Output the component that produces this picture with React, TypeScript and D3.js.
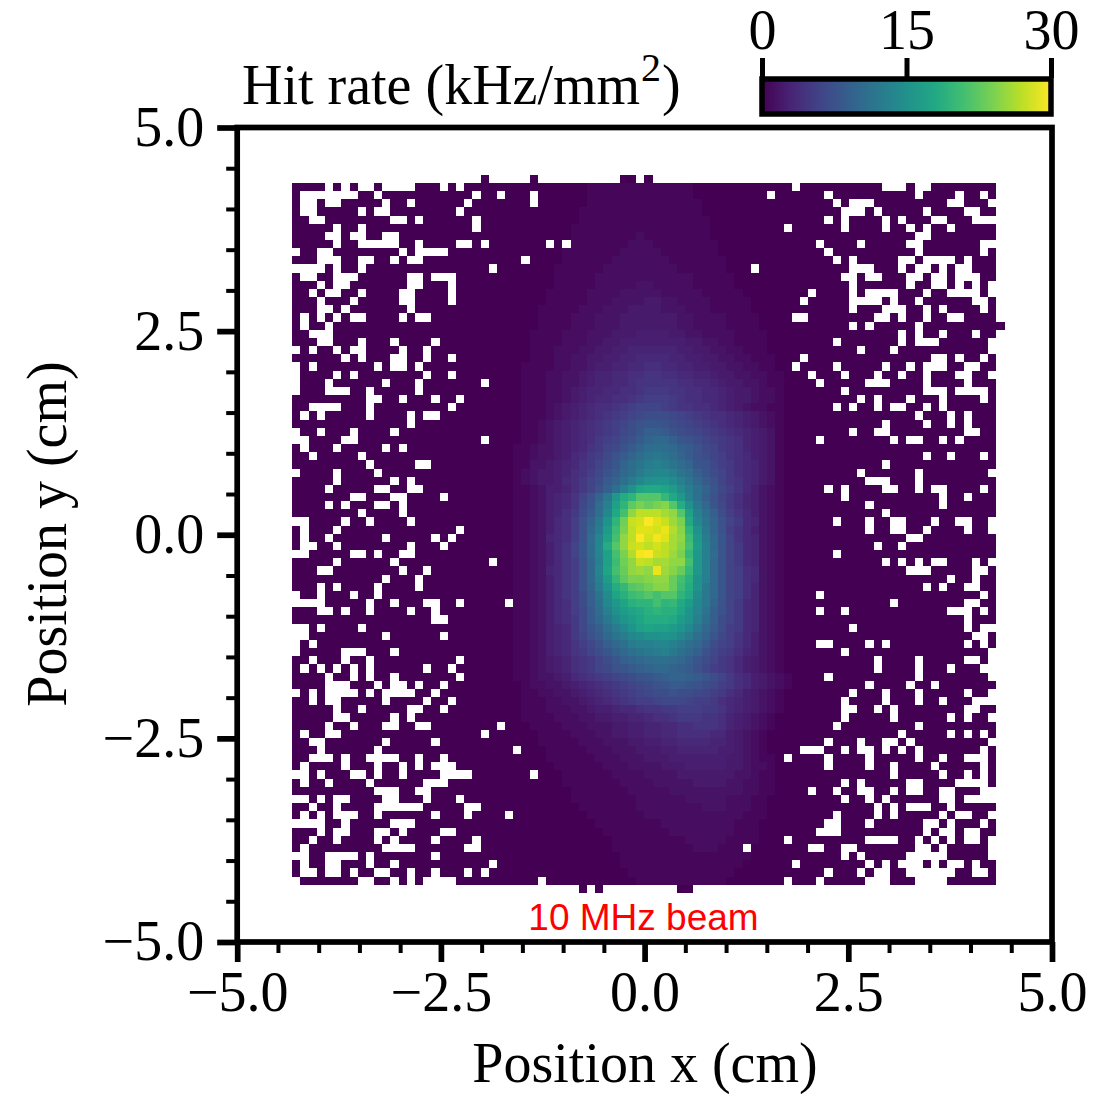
import React, { useEffect, useRef } from 'react'
import * as d3 from 'd3'

const majorTicks = [-5, -2.5, 0, 2.5, 5]
const minorTicks = [-4.5, -4, -3.5, -3, -2, -1.5, -1, -0.5, 0.5, 1, 1.5, 2, 3, 3.5, 4, 4.5]
const colourTicks = [0, 15, 30]
const rateMax = 30

// bin layout of the histogram, in cm
const binWidth = 0.1005
const binHeight = 0.1002
const firstBinX = -4.325
const firstBinY = 4.32
const rowCount = 86
const colCount = 86
const rateFirstCol = 26

// hit rate per bin for the columns around the beam, two characters steps per kHz/mm2
const rateAlphabet = '0123456789abcdefghijklmnopqrstuvwxyzABCDEFGHIJKLMNOPQRSTUVWXYZ'
const rateRows = [
  '00000000001111111111111000000000000',
  '00000000001111111111111000000000000',
  '00000000001111111111111100000000000',
  '00000000011111111111111100000000000',
  '00000000011111111111111110000000000',
  '00000000111111111111111110000000000',
  '00000000111111112111111110000000000',
  '00000000111111122211111111000000000',
  '00000001111111222221111111000000000',
  '00000001111112222222111111100000000',
  '00000011111122222222211111100000000',
  '00000011111222222222222111110000000',
  '00000011111222223322222111110000000',
  '00000111112222333332222211111000000',
  '00000111112223333443322221111100000',
  '00001111122233344443332221111100000',
  '00001111222333444444433222211110000',
  '00001111222333444444433222211110000',
  '00011112223334445555443322221111000',
  '00011112223344555555554433221111000',
  '00011122233445566666655443322111000',
  '00011122334455667777665544332211100',
  '00111122334556677887766554433221100',
  '00111223345667788998877665443322110',
  '00111223345667789999988776544332110',
  '00111223456677889aaa998877654432210',
  '0011122345677889abbba98877654432210',
  '00111234567889abcccba99887654322110',
  '0011123456789abcdeeedcba98876543210',
  '001123456789abcefggfedcba9876543210',
  '001123456789abdegiihfedcba987654310',
  '00112345678abcefhjkkigfecba98654310',
  '01123345679acdfhjlmlkihfdca98654310',
  '0112334578abdfhjlnonljhfecb98754310',
  '0113345679acegjlnpqpnljgfdba8764310',
  '0123445689bdfhkmprssqnligeca8764310',
  '012344578acehjmpsuvvtqnkhfca9764310',
  '011235568acfimquzAAzxtpmjgdb9753210',
  '011235679cfjowBDIIIEAwqmifca8653210',
  '011235679dglqyDJMKMNIBuokgda8653210',
  '01123568aehmsAGOSSSQOIyqmieb9753210',
  '01123578bfjovDLTUYVTPMAsnjfca763210',
  '01123578bfkpxFMSVVUWRNDuojfb9753210',
  '01123678bflryGOSYUXVQOFwpkgc9763210',
  '01123579cglsBIOTUSUSQNGxqkgca763210',
  '01123579cglryGMRXYTSPMEwqlgca763210',
  '01123579bfkqyFLOTSQQOOGwqkgca763210',
  '01123679bfkrzGKOPOWPNKEwqkgcb873210',
  '01123579bfkqxEJMMNOOKGCuqkgcb873210',
  '01123579bfjpvBEIJLNNKFBuokgcb863210',
  '01123579beintzCFGIGIIDAtokgcb863210',
  '01123578beimswzCDDGDEAxsojfca763210',
  '01123578bdhlquxzACDCCzvrnifca763210',
  '01123578adhkosvxzBBBAxuqmieca763210',
  '01123567adgimpsvyzyyxvsokheba763210',
  '01123567acfhknpstuuvuspmjgdb9753210',
  '011235679bdfikmpqqrsqomkhecb9753210',
  '011235679acegikmnopqomkifdba8653210',
  '0112345689acegijklmmlkigeca97543210',
  '0112345689acdfghijkkjihfdba97543210',
  '01123345789abcdefghijjihgeca8754321',
  '0012233456789abcdefghhgfedba8754321',
  '00112233456789abcdeefeedcba87543210',
  '001112233456789abbcdddcbba876543210',
  '0011122233455677899aabbbaa976543210',
  '001111222334455667889aaa99865432100',
  '00011112223334455667788999865432100',
  '00001111222334455667788887754321000',
  '00001111122233344556677776654321000',
  '00000111112223334445566666554321000',
  '00000111111222333444555555544321100',
  '00000011111122233334445555544322100',
  '00000001111112222333344444443321100',
  '00000001111111222233333444433221100',
  '00000000111111122222333333333221100',
  '00000000111111112222223333322211000',
  '00000000011111112222222233322211000',
  '00000000001111111222222222222111000',
  '00000000000111111112222222221110000',
  '00000000000011111111222222221110000',
  '00000000000001111111112222211110000',
  '00000000000001111111111222111100000',
  '00000000000000111111111111111100000',
  '00000000000000111111111111111000000',
  '00000000000000011111111111110000000',
  '00000000000000001111111111100000000',
]

// bins with no hits, listed per row from the top
const emptyBins = [
  [4, 6, 8, 9, 11, 12, 13, 14, 18, 20, 61, 72, 73, 74, 76, 77],
  [1, 2, 3, 4, 5, 6, 7, 10, 22, 25, 29, 58, 65, 76, 81, 84],
  [1, 2, 4, 5, 11, 14, 21, 29, 66, 68, 69, 70, 80, 81, 85],
  [1, 2, 8, 10, 11, 20, 67, 68, 69, 71, 77, 82, 83],
  [2, 3, 12, 13, 15, 22, 65, 67, 72, 74, 78, 79, 83, 84, 85],
  [5, 8, 22, 60, 67, 72, 75, 77, 80],
  [4, 5, 7, 8, 11, 12, 76, 77],
  [5, 8, 9, 10, 11, 12, 15, 20, 21, 23, 31, 33, 64, 69, 75, 76, 84, 85],
  [0, 3, 4, 13, 15, 16, 17, 18, 65, 76, 84],
  [3, 4, 5, 8, 9, 12, 14, 15, 28, 66, 68, 74, 75, 77, 78, 79, 80, 82],
  [0, 1, 2, 3, 5, 8, 24, 56, 68, 69, 70, 74, 76, 77, 79, 81, 82],
  [1, 2, 5, 6, 7, 14, 15, 17, 18, 19, 67, 68, 70, 71, 75, 76, 78, 79, 81, 82, 83],
  [3, 5, 6, 14, 15, 19, 68, 75, 78, 79, 81, 83, 85],
  [2, 4, 5, 8, 13, 14, 19, 63, 68, 70, 71, 72, 73, 77, 80, 81, 82, 83, 85],
  [3, 7, 13, 14, 19, 62, 68, 69, 70, 71, 73, 76, 83, 84],
  [3, 4, 6, 14, 68, 72, 73, 74, 77, 79, 84],
  [1, 3, 5, 7, 8, 13, 15, 16, 61, 62, 71, 72, 74, 77, 80, 81],
  [1, 4, 68, 70, 76],
  [2, 3, 4, 74, 76, 79, 83],
  [3, 4, 8, 12, 17, 66, 74, 76, 77, 78, 85],
  [0, 2, 5, 7, 8, 13, 16, 69, 73, 85],
  [6, 8, 12, 13, 16, 19, 62, 78, 79, 81, 84],
  [0, 2, 10, 12, 13, 15, 61, 66, 72, 75, 77, 78, 79, 82, 83],
  [0, 5, 7, 16, 19, 63, 67, 71, 74, 77, 81, 82, 85],
  [0, 4, 11, 15, 23, 64, 70, 71, 72, 77, 82],
  [0, 4, 5, 6, 9, 15, 67, 77, 78, 79, 81, 82, 83, 84],
  [9, 10, 13, 17, 20, 69, 71, 75, 79, 84],
  [2, 3, 4, 5, 9, 19, 66, 68, 71, 73, 74, 77, 79],
  [1, 3, 9, 14, 16, 17, 76, 80, 82],
  [14, 72, 77, 80, 82],
  [0, 3, 7, 12, 68, 71, 72, 82, 83],
  [0, 1, 6, 7, 23, 64, 73, 75, 76, 79, 81],
  [1, 5, 11, 13],
  [2, 8, 77, 80, 84],
  [9, 15, 16, 72],
  [0, 5, 10, 69, 76, 85],
  [5, 12, 14, 70, 71, 72, 76],
  [4, 10, 11, 14, 15, 65, 67, 72, 73, 76, 78, 79, 84],
  [7, 8, 12, 13, 18, 67, 79, 82],
  [4, 6, 10, 11, 13, 70, 79],
  [8, 13, 72],
  [0, 1, 6, 9, 14, 66, 70, 73, 74, 78, 81, 82, 85],
  [1, 5, 20, 70, 73, 74, 77, 82, 85],
  [1, 4, 11, 17, 19, 75, 76],
  [1, 2, 5, 14, 18, 71, 74],
  [0, 1, 7, 8, 10, 13, 14, 66],
  [5, 12, 24, 72, 74, 76, 78, 79, 83, 85],
  [3, 4, 13, 16, 75, 76, 77, 83, 84],
  [11, 15, 80, 83],
  [3, 5, 10, 15, 77, 79, 82, 83],
  [0, 3, 7, 10, 64, 84],
  [0, 1, 2, 3, 9, 12, 16, 17, 20, 26, 73, 82, 83],
  [3, 4, 6, 9, 14, 17, 64, 67, 80, 81, 82, 84],
  [17, 18, 82],
  [0, 1, 3, 8, 68, 82, 84, 85],
  [0, 1, 11, 18, 83, 84],
  [0, 2, 64, 65, 70, 72, 82, 84],
  [0, 6, 7, 8, 12, 67, 85],
  [2, 6, 9, 20, 71, 76, 82, 83, 85],
  [1, 3, 5, 7, 9, 16, 19, 71, 76, 80, 84, 85],
  [4, 7, 9, 12, 20, 65, 76, 85],
  [4, 5, 6, 10, 12, 13, 15, 18, 70, 75, 78],
  [0, 2, 4, 5, 6, 7, 9, 11, 12, 13, 14, 17, 68, 72, 76, 82, 85],
  [2, 4, 5, 11, 16, 19, 67, 72, 76, 79, 83, 84, 85],
  [5, 8, 14, 15, 18, 67, 68, 71, 73, 82, 83],
  [5, 6, 12, 14, 67, 73, 80, 82, 85],
  [4, 7, 11, 12, 15, 16, 25, 66, 76],
  [1, 4, 5, 23, 74, 80, 82, 84],
  [2, 3, 11, 17, 65, 69, 72, 73, 75, 85],
  [3, 10, 27, 62, 63, 64, 67, 69, 70, 72, 74, 76, 84],
  [2, 3, 4, 6, 9, 10, 11, 12, 15, 18, 60, 65, 70, 76, 79, 82, 83, 84],
  [1, 6, 10, 13, 15, 17, 18, 19, 65, 70, 73, 78, 84],
  [0, 1, 3, 7, 8, 10, 13, 18, 19, 20, 21, 29, 73, 79, 82, 84],
  [1, 4, 9, 16, 17, 18, 67, 69, 75, 76, 81, 82, 83, 84],
  [10, 11, 12, 15, 16, 63, 66, 69, 70, 73, 75, 76, 79, 80, 84, 85],
  [0, 1, 3, 5, 6, 11, 12, 16, 20, 67, 70, 72, 79, 80, 82, 83, 84, 85],
  [2, 5, 10, 11, 12, 13, 14, 15, 21, 22, 71, 73, 75, 76, 77, 80],
  [1, 3, 5, 6, 7, 10, 17, 21, 26, 66, 71, 73, 79, 81, 82, 85],
  [0, 1, 2, 3, 6, 12, 13, 14, 65, 66, 70, 77, 78, 80, 84],
  [3, 5, 6, 10, 11, 13, 18, 19, 64, 65, 66, 77, 79, 80, 82, 83],
  [2, 5, 10, 12, 17, 22, 60, 70, 71, 72, 73, 76, 78, 80, 82, 83, 85],
  [1, 11, 12, 13, 14, 21, 22, 55, 63, 64, 67, 68, 76, 77, 79, 85],
  [0, 1, 4, 5, 6, 7, 9, 17, 67, 69, 75, 76, 77, 78, 79, 85],
  [1, 4, 5, 9, 12, 24, 61, 70, 72, 74, 75, 76, 78, 80, 81, 83],
  [1, 2, 4, 5, 7, 10, 11, 14, 17, 21, 23, 65, 69, 71, 72, 75, 76, 77, 78, 79, 80, 83, 84],
  [0, 8, 9, 12, 14, 16, 17, 18, 19, 30, 60, 64, 70, 71, 72, 76, 77, 78, 79],
]

// the few filled bins that stick out of the square
const stubsAbove = [23, 29, 40, 41, 43]
const stubsBelow = [35, 37, 47, 48]
const stubsRight = [17]

const width = 1109
const height = 1094
const plotLeft = 237.2
const plotRight = 1052
const plotTop = 127.5
const plotBottom = 942
const serif = '"Liberation Serif", "Times New Roman", serif'

const xScale = d3.scaleLinear().domain([-5, 5]).range([plotLeft, plotRight])
const yScale = d3.scaleLinear().domain([-5, 5]).range([plotBottom, plotTop])
const barScale = d3.scaleLinear().domain([0, rateMax]).range([762, 1051])
const colour = d3.scaleSequential(d3.interpolateViridis).domain([0, rateMax])
const tickFormat = (d: any) => d3.format('.1f')(d).replace('-', '\u2212')

function rateAt(row: number, col: number) {
  const text = rateRows[row] || ''
  const ch = text[col - rateFirstCol]
  if (!ch) return 0
  return rateAlphabet.indexOf(ch) / 2
}

function buildCells() {
  const cells: { row: number; col: number; rate: number }[] = []
  d3.range(rowCount).forEach((row) => {
    d3.range(colCount).forEach((col) => {
      if (emptyBins[row].includes(col)) return
      cells.push({ row, col, rate: rateAt(row, col) })
    })
  })
  stubsAbove.forEach((col) => cells.push({ row: -1, col, rate: 0 }))
  stubsBelow.forEach((col) => cells.push({ row: rowCount, col, rate: 0 }))
  stubsRight.forEach((row) => cells.push({ row, col: colCount, rate: 0 }))
  return cells
}

export default function App() {
  const xAxis = useRef<SVGGElement>(null)
  const yAxis = useRef<SVGGElement>(null)
  const xMinor = useRef<SVGGElement>(null)
  const yMinor = useRef<SVGGElement>(null)
  const barAxis = useRef<SVGGElement>(null)

  useEffect(() => {
    const style = (sel: any, strokeWidth: number) => {
      sel.select('.domain').remove()
      sel.selectAll('line').attr('stroke', '#000').attr('stroke-width', strokeWidth)
      sel.selectAll('text').attr('fill', '#000').attr('font-family', serif).attr('font-size', 56)
    }
    d3.select(xAxis.current)
      .call(d3.axisBottom(xScale).tickValues(majorTicks).tickSize(20).tickPadding(9).tickFormat(tickFormat) as any)
      .call(style, 5.7)
    d3.select(yAxis.current)
      .call(d3.axisLeft(yScale).tickValues(majorTicks).tickSize(20).tickPadding(13).tickFormat(tickFormat) as any)
      .call(style, 5.7)
    d3.select(xMinor.current)
      .call(d3.axisBottom(xScale).tickValues(minorTicks).tickSize(11).tickFormat(() => '') as any)
      .call(style, 4)
    d3.select(yMinor.current)
      .call(d3.axisLeft(yScale).tickValues(minorTicks).tickSize(11).tickFormat(() => '') as any)
      .call(style, 4)
    d3.select(barAxis.current)
      .call(d3.axisTop(barScale).tickValues(colourTicks).tickSize(20).tickPadding(9).tickFormat((d: any) => String(d)) as any)
      .call(style, 5)
  }, [])

  const cells = buildCells()
  const edgeX = (col: number) => xScale(firstBinX + col * binWidth)
  const edgeY = (row: number) => yScale(firstBinY - row * binHeight)

  return (
    <svg width={width} height={height} style={{ position: 'absolute', left: 0, top: 0, display: 'block', background: '#fff' }}>
      <defs>
        <linearGradient id="viridisBar" x1="0" x2="1" y1="0" y2="0">
          {d3.range(0, 1.01, 0.1).map((t) => (
            <stop key={t} offset={t} stopColor={d3.interpolateViridis(t)} />
          ))}
        </linearGradient>
      </defs>

      <g shapeRendering="crispEdges">
        {cells.map((d) => (
          <rect
            key={d.row + '_' + d.col}
            x={edgeX(d.col)}
            y={edgeY(d.row)}
            width={edgeX(d.col + 1) - edgeX(d.col)}
            height={edgeY(d.row + 1) - edgeY(d.row)}
            fill={colour(d.rate)}
          />
        ))}
      </g>

      <g ref={xMinor} transform={`translate(0,${plotBottom})`} />
      <g ref={yMinor} transform={`translate(${plotLeft},0)`} />
      <g ref={xAxis} transform={`translate(0,${plotBottom})`} />
      <g ref={yAxis} transform={`translate(${plotLeft},0)`} />
      <rect x={plotLeft} y={plotTop} width={plotRight - plotLeft} height={plotBottom - plotTop} fill="none" stroke="#000" strokeWidth={5.7} />

      <text x={643.5} y={930} textAnchor="middle" fontFamily='"Liberation Sans", Arial, sans-serif' fontSize={37} fill="#ff0000">
        10 MHz beam
      </text>

      <text x={645} y={1081.5} textAnchor="middle" fontFamily={serif} fontSize={56}>
        Position x (cm)
      </text>
      <text transform="translate(66,534) rotate(-90)" textAnchor="middle" fontFamily={serif} fontSize={56}>
        Position y (cm)
      </text>

      <text x={242} y={104} fontFamily={serif} fontSize={56}>
        Hit rate (kHz/mm<tspan dx={1} dy={-23} fontSize={40}>2</tspan><tspan dx={1} dy={23}>)</tspan>
      </text>

      <rect x={barScale(0)} y={79} width={barScale(rateMax) - barScale(0)} height={35} fill="url(#viridisBar)" stroke="#000" strokeWidth={5.5} />
      <g ref={barAxis} transform="translate(0,78)" />
    </svg>
  )
}
